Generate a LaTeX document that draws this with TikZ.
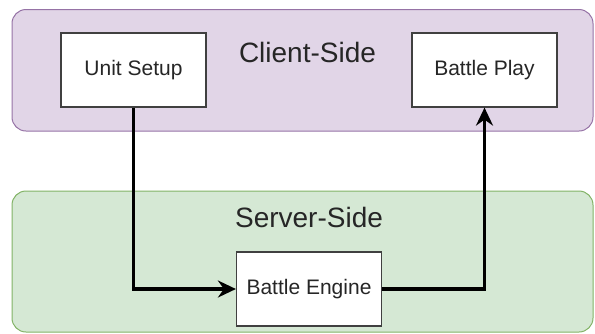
\documentclass[tikz,border=0pt]{standalone}
\usepackage{fontspec}
\setmainfont{Liberation Sans}
\usetikzlibrary{arrows.meta, positioning, calc}
\definecolor{clientfill}{HTML}{E1D5E7}
\definecolor{clientline}{HTML}{9673A6}
\definecolor{serverfill}{HTML}{D5E8D4}
\definecolor{serverline}{HTML}{82B366}

\begin{document}
\begin{tikzpicture}[
  x=0.5pt, y=-0.5pt,
  font=\fontsize{10.5}{12.6}\selectfont,
  text=black!85,
  side/.style={rounded corners=7pt, line width=0.5pt},
  clientside/.style={side, draw=clientline, fill=clientfill},
  serverside/.style={side, draw=serverline, fill=serverfill},
  box/.style={rectangle, draw=black!75, fill=white, line width=0.6pt,
              minimum width=72.5pt, minimum height=37pt, inner sep=2pt},
  sidelbl/.style={font=\fontsize{14}{16.8}\selectfont, anchor=base},
  arr/.style={-{Stealth[length=9pt, width=8.5pt, inset=3pt]}, line width=1.6pt},
]
\useasboundingbox (0,0) rectangle (595,333);
% the two tiers
\draw [clientside] (12,9.5) rectangle (593,131);
\draw [serverside] (12,191) rectangle (593,332);
\node (clientlbl) [sidelbl] at (307.5,62) {Client-Side};
\node (serverlbl) [sidelbl] at (309,227) {Server-Side};
% components
\node (setup)  [box] at (133.5,70) {Unit Setup};
\node (play)   [box] at (484.5,70) {Battle Play};
\node (engine) [box] at (309,289) {Battle Engine};
% data flow: setup -> engine -> play
\draw [arr] (setup.south) |- (engine.west);
\draw [arr] (engine.east) -| (play.south);
\end{tikzpicture}
\end{document}
